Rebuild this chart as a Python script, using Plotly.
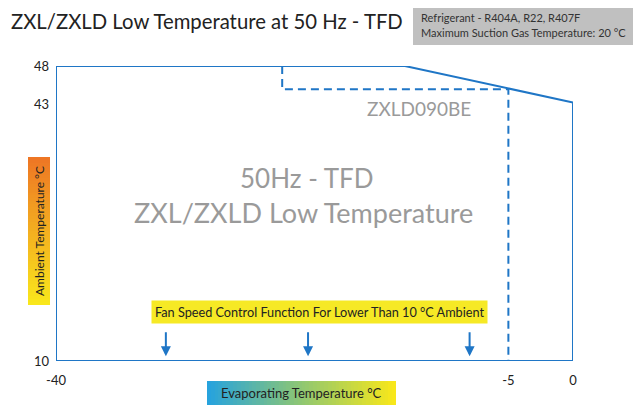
import plotly.graph_objects as go

# page has an 8px body margin, so the figure is drawn 8px in from the window edge
OFF = 8
W, H = 641 - OFF, 407 - OFF
FONT = "Lato"

# ---- data ----
env_x = [-40, -40, -13, 0, 0, -40]
env_y = [10, 48, 48, 43.3, 10, 10]
model_x = [-22.5, -22.5, -5, -5]
model_y = [48, 45, 45, 10]
model_name = "ZXLD090BE"
fan_x = [-31.5, -20.5, -8]
x_ticks = [-40, -5, 0]
x_ticklabels = ["-40", "-5", "0"]
y_ticks = [10, 43, 48]
y_ticklabels = ["10", "43", "48"]

BLUE = "#1f76c6"

def px_x(p):
    return (p - OFF) / W

def px_y(p):
    return 1 - (p - OFF) / H

fig = go.Figure()

fig.add_trace(go.Scatter(x=env_x, y=env_y, mode="lines",
                         line=dict(color=BLUE, width=2), cliponaxis=False,
                         hoverinfo="skip", showlegend=False))
fig.add_trace(go.Scatter(x=model_x, y=model_y, mode="lines",
                         line=dict(color=BLUE, width=2, dash="8px,5px"), cliponaxis=False,
                         hoverinfo="skip", showlegend=False))

# gradient boxes via heatmaps on helper axes
fig.add_trace(go.Heatmap(z=[list(range(50))], xaxis="x2", yaxis="y2", showscale=False,
                         colorscale=[[0, "#27a3dd"], [0.5, "#8fc772"], [1, "#f8e71a"]],
                         hoverinfo="skip"))
fig.add_trace(go.Heatmap(z=[[i] for i in range(50)], xaxis="x3", yaxis="y3", showscale=False,
                         colorscale=[[0, "#f9e71c"], [1, "#ee7624"]],
                         hoverinfo="skip"))

fig.update_layout(
    width=W, height=H,
    margin=dict(l=0, r=0, t=0, b=0, autoexpand=False),
    paper_bgcolor="white", plot_bgcolor="white",
    font=dict(family=FONT, color="#222"),
    xaxis=dict(domain=[px_x(56), px_x(573)], range=[-40, 0], showgrid=False, zeroline=False,
               showline=False, tickvals=x_ticks, ticktext=x_ticklabels, ticks="",
               automargin=False,
               ticklabelstandoff=10, tickfont=dict(size=13, color="#222")),
    yaxis=dict(domain=[px_y(361), px_y(66)], range=[10, 48], showgrid=False, zeroline=False,
               showline=False, tickvals=y_ticks, ticktext=y_ticklabels, ticks="",
               automargin=False,
               ticklabelstandoff=6, tickfont=dict(size=13, color="#222")),
    xaxis2=dict(domain=[px_x(207), px_x(396)], anchor="y2", visible=False, fixedrange=True,
                automargin=False),
    yaxis2=dict(domain=[px_y(405), px_y(381)], anchor="x2", visible=False, fixedrange=True,
                automargin=False),
    xaxis3=dict(domain=[px_x(28), px_x(50)], anchor="y3", visible=False, fixedrange=True,
                automargin=False),
    yaxis3=dict(domain=[px_y(305), px_y(157)], anchor="x3", visible=False, fixedrange=True,
                automargin=False),
)

# gray info box
fig.add_shape(type="rect", xref="paper", yref="paper",
              x0=px_x(413), x1=1, y0=px_y(45), y1=px_y(5),
              fillcolor="#c0c0c0", line=dict(width=0), layer="below")

anns = []
anns.append(dict(text="ZXL/ZXLD Low Temperature at 50 Hz - TFD", xref="paper", yref="paper",
                 x=px_x(10), y=px_y(21), xanchor="left", yanchor="middle", showarrow=False,
                 borderpad=0, font=dict(size=20.3, color="#222")))
anns.append(dict(text="Refrigerant - R404A, R22, R407F", xref="paper", yref="paper",
                 x=px_x(420), y=px_y(17.5), xanchor="left", yanchor="middle", showarrow=False,
                 borderpad=0, font=dict(size=11, color="#333")))
anns.append(dict(text="Maximum Suction Gas Temperature: 20 °C", xref="paper", yref="paper",
                 x=px_x(420), y=px_y(33), xanchor="left", yanchor="middle", showarrow=False,
                 borderpad=0, font=dict(size=11, color="#333")))
anns.append(dict(text="50Hz - TFD", xref="paper", yref="paper",
                 x=px_x(307), y=px_y(178), xanchor="center", yanchor="middle", showarrow=False,
                 font=dict(size=26, color="#9a9a9a")))
anns.append(dict(text="ZXL/ZXLD Low Temperature", xref="paper", yref="paper",
                 x=px_x(303), y=px_y(212), xanchor="center", yanchor="middle", showarrow=False,
                 font=dict(size=27, color="#9a9a9a")))
anns.append(dict(text=model_name, xref="paper", yref="paper",
                 x=px_x(419), y=px_y(109), xanchor="center", yanchor="middle", showarrow=False,
                 font=dict(size=19, color="#9a9a9a")))
anns.append(dict(text="Fan Speed Control Function For Lower Than 10 °C Ambient", xref="paper", yref="paper",
                 x=px_x(319), y=px_y(312), xanchor="center", yanchor="middle", showarrow=False,
                 bgcolor="#f6e925", borderpad=3, font=dict(size=12.7, color="#222")))
anns.append(dict(text="Evaporating Temperature °C", xref="paper", yref="paper",
                 x=px_x(301), y=px_y(393), xanchor="center", yanchor="middle", showarrow=False,
                 font=dict(size=13, color="#222")))
anns.append(dict(text="Ambient Temperature °C", xref="paper", yref="paper",
                 x=px_x(39), y=px_y(231), xanchor="center", yanchor="middle", showarrow=False,
                 textangle=-90, font=dict(size=12, color="#222")))
for fx in fan_x:
    anns.append(dict(x=fx, y=10.6, ax=fx, ay=13.9, xref="x", yref="y", axref="x", ayref="y",
                     text="", showarrow=True, arrowhead=2, arrowsize=1, arrowwidth=2,
                     arrowcolor=BLUE))
fig.update_layout(annotations=anns)

fig.write_html("out.html")
